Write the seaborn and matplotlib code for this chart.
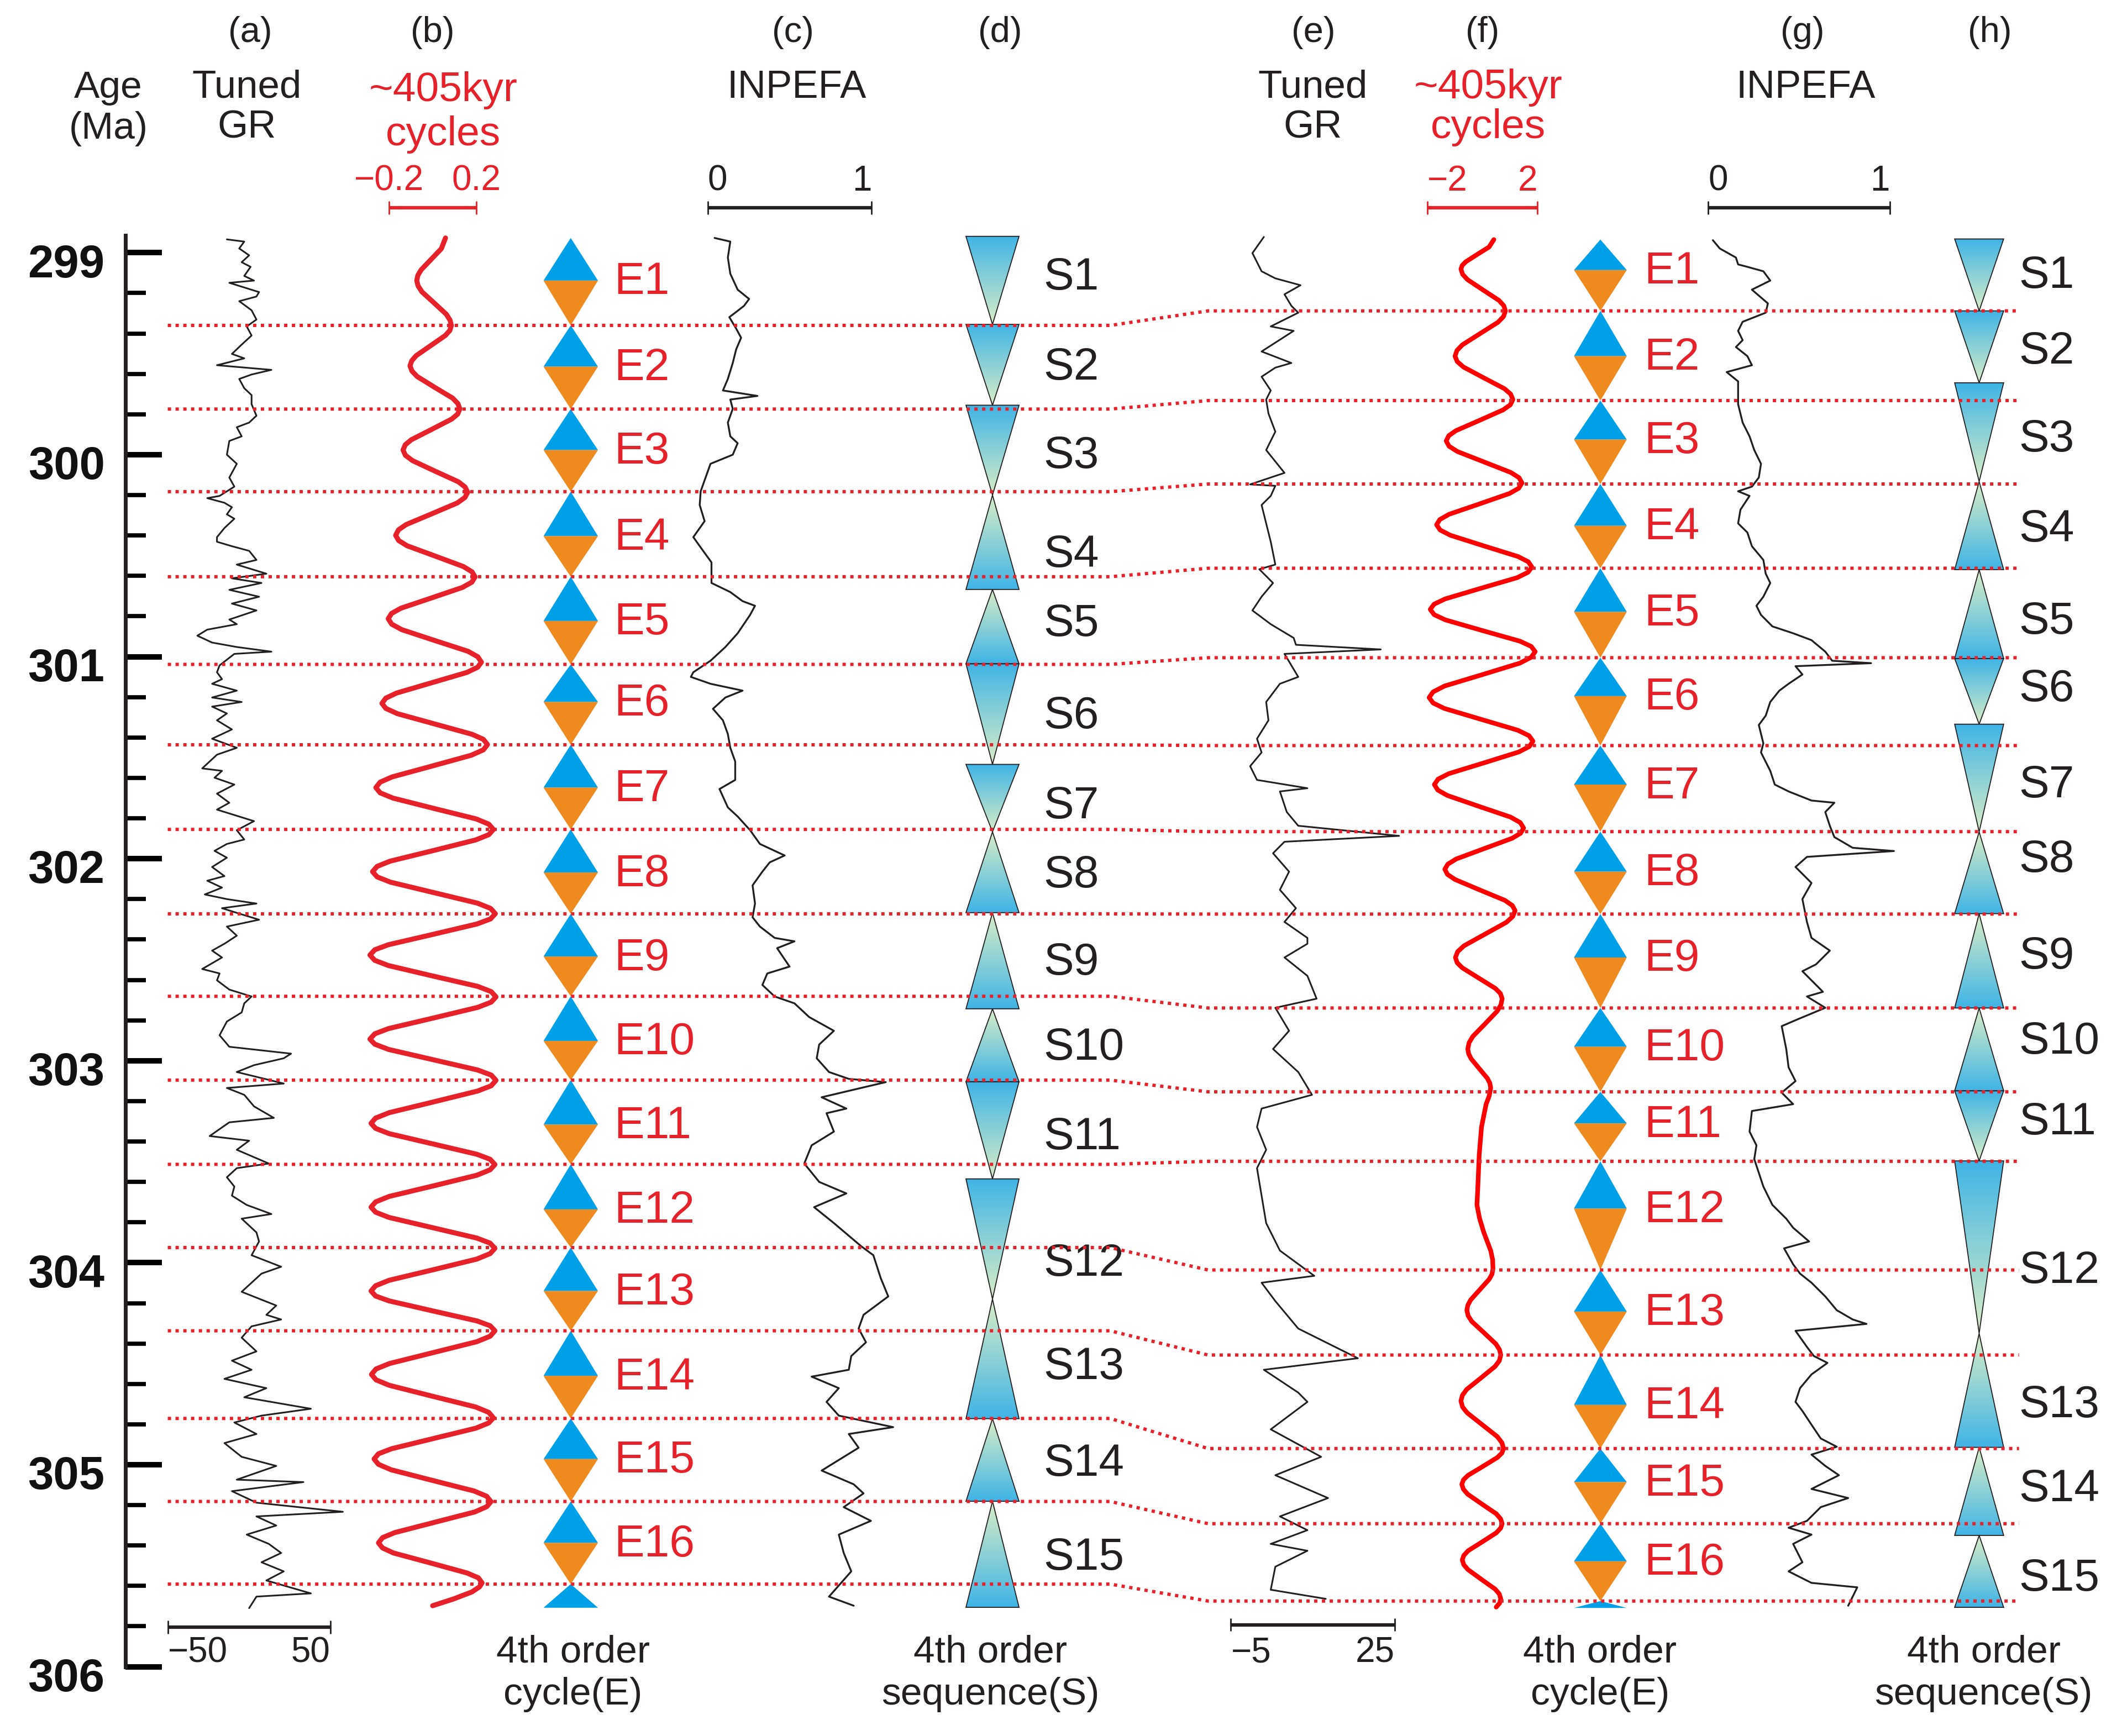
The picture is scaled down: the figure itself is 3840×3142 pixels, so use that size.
import numpy as np
import matplotlib
matplotlib.use("Agg")
import matplotlib.pyplot as plt
import seaborn as sns
from matplotlib.colors import LinearSegmentedColormap
from matplotlib.patches import Polygon
from matplotlib.ticker import FixedLocator

# ---------------- boundaries (Ma) ----------------
e_left_bounds = [298.927, 299.360, 299.774, 300.183, 300.604, 301.038, 301.436, 301.855, 302.273,
                 302.681, 303.096, 303.513, 303.925, 304.337, 304.771, 305.182, 305.591]
e_left_mid = [299.138, 299.564, 299.977, 300.403, 300.823, 301.224, 301.648, 302.068,
              302.484, 302.902, 303.316, 303.736, 304.140, 304.560, 304.972, 305.387]
e_left_end = 305.708
e_right_bounds = [298.935, 299.288, 299.732, 300.145, 300.562, 301.005, 301.440, 301.866, 302.274,
                  302.739, 303.154, 303.498, 304.036, 304.457, 304.920, 305.292, 305.675]
e_right_mid = [299.086, 299.512, 299.925, 300.352, 300.778, 301.195, 301.633, 302.064,
               302.489, 302.931, 303.310, 303.732, 304.242, 304.704, 305.086, 305.478]
e_right_end = 305.709
s_left_bounds = [298.919, 299.355, 299.755, 300.200, 300.667, 301.035, 301.533, 301.867, 302.267,
                 302.743, 303.104, 303.585, 304.180, 304.772, 305.181, 305.706]
s_right_bounds = [298.932, 299.288, 299.644, 300.133, 300.569, 301.009, 301.334, 301.867, 302.272,
                  302.739, 303.149, 303.496, 304.350, 304.914, 305.350, 305.706]
s_kind = ["down", "down", "down", "up", "up", "down", "down", "up", "up", "up",
          "down", "down", "up", "up", "up"]
e_names = [f"E{i}" for i in range(1, 17)]
s_names = [f"S{i}" for i in range(1, 16)]
age_ticks = [299, 300, 301, 302, 303, 304, 305, 306]

# ---------------- curves: [age (Ma), value] ----------------
gr_left = np.array([
    [298.934, -13.6], [298.945, -2.9], [298.979, -6.0], [299.013, 0.1], [299.047, -4.5], [299.070, 1.0],
    [299.115, -2.9], [299.138, 3.1], [299.149, -12.1], [299.195, 6.2], [299.217, 4.6], [299.240, -6.0],
    [299.285, 1.6], [299.331, 4.6], [299.365, -1.4], [299.410, 1.6], [299.455, -4.5], [299.501, -10.5],
    [299.523, -2.9], [299.557, -19.7], [299.580, 13.8], [299.603, 1.6], [299.625, -6.0], [299.671, -2.9],
    [299.705, 1.6], [299.750, 1.6], [299.807, 4.6], [299.841, 0.1], [299.864, -7.5], [299.909, -4.5],
    [299.932, -12.1], [300.000, -13.6], [300.045, -7.5], [300.113, -12.1], [300.158, -9.0], [300.204, -18.1],
    [300.215, -25.7], [300.238, -15.1], [300.260, -10.5], [300.295, -13.6], [300.317, -9.0], [300.363, -15.1],
    [300.408, -19.7], [300.431, -19.7], [300.453, -10.5], [300.476, 0.1], [300.521, 4.6], [300.544, -7.5],
    [300.589, 10.7], [300.612, -10.5], [300.635, 7.7], [300.669, -12.1], [300.703, 6.2], [300.737, -10.5],
    [300.771, 4.6], [300.816, -12.1], [300.839, -7.5], [300.866, -25.7], [300.896, -31.8], [300.930, -22.7],
    [300.952, -7.5], [300.975, 13.8], [300.986, -9.0], [301.043, -18.1], [301.077, -19.7], [301.111, -16.6],
    [301.134, -22.7], [301.168, -7.5], [301.202, -22.7], [301.224, -4.5], [301.247, -22.7], [301.281, -13.6],
    [301.315, -19.7], [301.360, -10.5], [301.406, -22.7], [301.451, -7.5], [301.485, -19.7], [301.553, -28.8],
    [301.565, -16.6], [301.599, -21.2], [301.633, -9.0], [301.678, -19.7], [301.723, -12.1], [301.757, -19.7],
    [301.814, 3.1], [301.859, -7.5], [301.905, -2.9], [301.927, -13.6], [301.961, -21.2], [301.995, -13.6],
    [302.041, -22.7], [302.086, -15.1], [302.109, -25.7], [302.143, -16.6], [302.177, -27.2], [302.200, -13.6],
    [302.222, 4.6], [302.245, -16.6], [302.268, -7.5], [302.302, 6.2], [302.336, -13.6], [302.381, -7.5],
    [302.421, -15.1], [302.455, -22.7], [302.489, -16.6], [302.546, -28.8], [302.568, -18.1], [302.602, -19.7],
    [302.648, -12.1], [302.682, 1.6], [302.716, -2.9], [302.761, -4.5], [302.806, -13.6], [302.874, -18.1],
    [302.931, -12.1], [302.965, 25.9], [302.988, 21.4], [303.022, 3.1], [303.056, -7.5], [303.113, 21.4],
    [303.135, -13.6], [303.169, -2.9], [303.226, 3.1], [303.283, 15.3], [303.305, -12.1], [303.373, -24.2],
    [303.396, 0.1], [303.441, -7.5], [303.509, 12.2], [303.532, -7.5], [303.577, -13.6], [303.623, -9.0],
    [303.668, -10.5], [303.714, -1.4], [303.759, 13.8], [303.782, -4.5], [303.850, 4.6], [303.895, 6.2],
    [303.963, 1.6], [304.020, 19.8], [304.054, 7.7], [304.144, -4.5], [304.212, 16.8], [304.258, 10.7],
    [304.281, 19.8], [304.315, 1.6], [304.371, -4.5], [304.439, 4.6], [304.485, -10.5], [304.530, 1.6],
    [304.575, -15.1], [304.621, 10.7], [304.666, -2.9], [304.723, 38.1], [304.757, 7.7], [304.791, -9.0],
    [304.848, 4.6], [304.893, -15.1], [304.961, -4.5], [305.006, 16.8], [305.074, -7.5], [305.086, 33.5],
    [305.131, -10.5], [305.188, 4.6], [305.233, 57.8], [305.256, 4.6], [305.301, 16.8], [305.346, -1.4],
    [305.392, 12.2], [305.437, 19.8], [305.483, 7.7], [305.528, 21.4], [305.573, 10.7], [305.637, 38.1],
    [305.653, 4.6], [305.710, 0.1]])

cycle_left = np.array([
    [298.927, 0.059], [298.980, 0.040], [299.033, -0.007], [299.085, -0.053], [299.112, -0.068],
    [299.138, -0.073], [299.164, -0.067], [299.194, -0.049], [299.249, 0.007], [299.305, 0.063],
    [299.334, 0.080], [299.360, 0.086], [299.385, 0.079], [299.410, 0.058], [299.460, -0.009],
    [299.510, -0.076], [299.535, -0.096], [299.560, -0.104], [299.586, -0.095], [299.613, -0.071],
    [299.667, 0.010], [299.720, 0.092], [299.747, 0.116], [299.773, 0.125], [299.799, 0.115],
    [299.824, 0.087], [299.875, -0.005], [299.926, -0.098], [299.951, -0.126], [299.977, -0.136],
    [300.003, -0.125], [300.029, -0.093], [300.082, 0.012], [300.134, 0.118], [300.160, 0.149],
    [300.186, 0.161], [300.212, 0.148], [300.239, 0.113], [300.293, -0.005], [300.346, -0.122],
    [300.372, -0.157], [300.399, -0.170], [300.425, -0.156], [300.451, -0.117], [300.502, 0.012],
    [300.554, 0.142], [300.580, 0.181], [300.605, 0.195], [300.631, 0.180], [300.657, 0.137],
    [300.709, -0.005], [300.760, -0.146], [300.786, -0.189], [300.812, -0.204], [300.839, -0.188],
    [300.866, -0.142], [300.920, 0.010], [300.973, 0.162], [301.000, 0.207], [301.027, 0.224],
    [301.052, 0.207], [301.078, 0.157], [301.129, -0.005], [301.180, -0.166], [301.205, -0.215],
    [301.231, -0.233], [301.256, -0.215], [301.282, -0.162], [301.333, 0.010], [301.384, 0.181],
    [301.409, 0.233], [301.435, 0.252], [301.461, 0.233], [301.488, 0.177], [301.542, -0.005],
    [301.595, -0.186], [301.621, -0.241], [301.648, -0.261], [301.674, -0.241], [301.700, -0.182],
    [301.752, 0.009], [301.803, 0.200], [301.829, 0.258], [301.855, 0.279], [301.881, 0.258],
    [301.907, 0.198], [301.960, 0.002], [302.012, -0.195], [302.038, -0.255], [302.064, -0.276],
    [302.090, -0.255], [302.116, -0.194], [302.168, 0.006], [302.220, 0.206], [302.246, 0.266],
    [302.272, 0.288], [302.298, 0.266], [302.323, 0.204], [302.375, 0.000], [302.426, -0.204],
    [302.451, -0.266], [302.477, -0.288], [302.503, -0.266], [302.529, -0.203], [302.581, 0.002],
    [302.632, 0.207], [302.658, 0.269], [302.684, 0.291], [302.710, 0.269], [302.736, 0.207],
    [302.789, 0.002], [302.841, -0.203], [302.867, -0.266], [302.893, -0.288], [302.918, -0.266],
    [302.944, -0.203], [302.995, 0.002], [303.046, 0.207], [303.071, 0.269], [303.097, 0.291],
    [303.124, 0.269], [303.150, 0.207], [303.204, 0.004], [303.257, -0.199], [303.284, -0.262],
    [303.310, -0.283], [303.335, -0.262], [303.361, -0.200], [303.412, 0.002], [303.463, 0.203],
    [303.488, 0.264], [303.514, 0.286], [303.540, 0.264], [303.567, 0.203], [303.620, 0.002],
    [303.672, -0.200], [303.699, -0.262], [303.725, -0.283], [303.750, -0.262], [303.776, -0.200],
    [303.827, 0.002], [303.878, 0.203], [303.903, 0.264], [303.929, 0.286], [303.955, 0.264],
    [303.982, 0.203], [304.035, 0.002], [304.087, -0.200], [304.114, -0.262], [304.140, -0.283],
    [304.165, -0.262], [304.189, -0.200], [304.239, 0.002], [304.288, 0.203], [304.312, 0.264],
    [304.337, 0.286], [304.364, 0.264], [304.391, 0.203], [304.445, 0.003], [304.499, -0.198],
    [304.526, -0.260], [304.553, -0.281], [304.580, -0.260], [304.607, -0.199], [304.661, -0.001],
    [304.714, 0.197], [304.741, 0.258], [304.768, 0.279], [304.793, 0.258], [304.819, 0.199],
    [304.870, 0.005], [304.921, -0.189], [304.946, -0.249], [304.972, -0.269], [304.998, -0.249],
    [305.025, -0.191], [305.078, 0.000], [305.130, 0.190], [305.156, 0.248], [305.183, 0.268],
    [305.208, 0.248], [305.234, 0.193], [305.285, 0.010], [305.336, -0.174], [305.361, -0.230],
    [305.387, -0.249], [305.412, -0.230], [305.437, -0.180], [305.486, -0.011], [305.536, 0.158],
    [305.560, 0.210], [305.585, 0.227], [305.605, 0.215], [305.630, 0.180], [305.665, 0.095],
    [305.698, 0.000]])

inpefa_left = np.array([
    [298.927, 0.041], [298.945, 0.137], [299.024, 0.122], [299.104, 0.137], [299.183, 0.182],
    [299.229, 0.252], [299.263, 0.221], [299.297, 0.167], [299.319, 0.131], [299.376, 0.173],
    [299.421, 0.203], [299.478, 0.173], [299.546, 0.152], [299.625, 0.122], [299.682, 0.092],
    [299.709, 0.303], [299.727, 0.137], [299.773, 0.152], [299.841, 0.122], [299.909, 0.137],
    [299.943, 0.182], [300.000, 0.152], [300.045, 0.016], [300.113, -0.014], [300.181, -0.044],
    [300.249, -0.050], [300.329, -0.020], [300.408, -0.089], [300.476, -0.029], [300.533, 0.022],
    [300.635, 0.022], [300.680, 0.137], [300.725, 0.212], [300.748, 0.288], [300.793, 0.258],
    [300.884, 0.182], [300.952, 0.107], [301.020, 0.016], [301.077, -0.089], [301.100, -0.104],
    [301.134, 0.016], [301.168, 0.212], [301.202, 0.107], [301.258, 0.031], [301.315, 0.092],
    [301.383, 0.122], [301.451, 0.137], [301.519, 0.167], [301.610, 0.167], [301.655, 0.071],
    [301.746, 0.122], [301.791, 0.182], [301.859, 0.258], [301.927, 0.318], [301.984, 0.469],
    [302.018, 0.378], [302.064, 0.333], [302.132, 0.273], [302.222, 0.288], [302.290, 0.273],
    [302.336, 0.318], [302.392, 0.408], [302.409, 0.529], [302.443, 0.423], [302.534, 0.499],
    [302.568, 0.363], [302.625, 0.333], [302.682, 0.408], [302.716, 0.529], [302.784, 0.619],
    [302.852, 0.770], [302.920, 0.680], [302.988, 0.665], [303.056, 0.740], [303.090, 0.861],
    [303.106, 1.087], [303.181, 0.695], [303.237, 0.846], [303.260, 0.725], [303.351, 0.770],
    [303.419, 0.634], [303.509, 0.589], [303.600, 0.680], [303.657, 0.846], [303.725, 0.649],
    [303.804, 0.770], [303.918, 0.936], [303.963, 1.011], [304.076, 1.056], [304.167, 1.102],
    [304.258, 0.951], [304.326, 0.921], [304.394, 0.966], [304.462, 0.876], [304.530, 0.861],
    [304.564, 0.634], [304.621, 0.800], [304.689, 0.725], [304.757, 0.800], [304.814, 1.132],
    [304.848, 0.861], [304.916, 0.921], [305.029, 0.695], [305.097, 0.891], [305.142, 0.951],
    [305.210, 0.830], [305.278, 0.996], [305.346, 0.800], [305.437, 0.830], [305.528, 0.876],
    [305.653, 0.740], [305.698, 0.891]])

gr_right = np.array([
    [298.922, 1.05], [299.002, -1.05], [299.092, 0.63], [299.127, 3.15], [299.161, 7.77], [299.206, 4.83],
    [299.263, 6.09], [299.297, 7.35], [299.365, 2.31], [299.387, 6.51], [299.489, 0.63], [299.546, 6.09],
    [299.569, 3.15], [299.614, 0.63], [299.682, 2.31], [299.727, 1.47], [299.796, 1.89], [299.886, 3.15],
    [299.977, 1.47], [300.090, 4.83], [300.147, -1.47], [300.154, 3.15], [300.204, 2.31], [300.249, 0.63],
    [300.340, 1.47], [300.431, 2.31], [300.544, 3.15], [300.567, 0.21], [300.635, 2.73], [300.703, 0.63],
    [300.771, -1.05], [300.839, 2.31], [300.907, 6.51], [300.941, 6.93], [300.964, 22.47], [300.986, 4.83],
    [301.100, 7.35], [301.134, 3.99], [301.224, 1.47], [301.315, 1.89], [301.406, -0.21], [301.474, 0.63],
    [301.542, -1.47], [301.610, -0.21], [301.651, 9.03], [301.667, 3.99], [301.769, 5.25], [301.837, 7.35],
    [301.887, 25.83], [301.916, 4.83], [301.973, 2.73], [302.064, 5.67], [302.154, 3.99], [302.245, 6.93],
    [302.313, 4.83], [302.392, 9.03], [302.421, 9.03], [302.489, 4.83], [302.580, 9.03], [302.693, 10.71],
    [302.738, 3.15], [302.852, 5.67], [302.942, 2.73], [303.056, 7.35], [303.169, 9.87], [303.237, 0.63],
    [303.328, -0.21], [303.441, 1.47], [303.532, -0.21], [303.668, 0.63], [303.804, 1.47], [303.940, 3.99],
    [304.065, 10.29], [304.099, 0.63], [304.190, 3.15], [304.326, 7.35], [304.473, 18.27], [304.530, 1.05],
    [304.643, 7.35], [304.689, 9.03], [304.825, 2.31], [304.961, 11.55], [305.052, 3.15], [305.165, 12.81],
    [305.256, 3.99], [305.324, 9.03], [305.392, 2.31], [305.426, 9.03], [305.505, 3.15], [305.619, 2.31],
    [305.664, 12.39]])

cycle_right = np.array([
    [298.935, 0.420], [298.972, 0.246], [299.008, -0.178], [299.045, -0.600], [299.063, -0.730],
    [299.081, -0.775], [299.107, -0.714], [299.133, -0.539], [299.185, 0.033], [299.236, 0.604],
    [299.262, 0.779], [299.288, 0.840], [299.316, 0.770], [299.344, 0.573], [299.400, -0.075],
    [299.456, -0.723], [299.484, -0.920], [299.512, -0.990], [299.539, -0.910], [299.566, -0.683],
    [299.620, 0.060], [299.673, 0.803], [299.700, 1.030], [299.727, 1.110], [299.753, 1.018],
    [299.778, 0.757], [299.830, -0.100], [299.881, -0.957], [299.906, -1.218], [299.932, -1.310],
    [299.958, -1.206], [299.984, -0.908], [300.036, 0.065], [300.088, 1.038], [300.114, 1.336],
    [300.140, 1.440], [300.166, 1.322], [300.192, 0.987], [300.244, -0.110], [300.295, -1.207],
    [300.321, -1.542], [300.347, -1.660], [300.373, -1.529], [300.399, -1.155], [300.452, 0.070],
    [300.504, 1.295], [300.530, 1.669], [300.556, 1.800], [300.582, 1.660], [300.609, 1.261],
    [300.661, -0.045], [300.714, -1.351], [300.740, -1.750], [300.766, -1.890], [300.792, -1.745],
    [300.818, -1.334], [300.871, 0.015], [300.923, 1.364], [300.949, 1.775], [300.975, 1.920],
    [301.003, 1.774], [301.032, 1.358], [301.089, -0.005], [301.145, -1.368], [301.174, -1.784],
    [301.202, -1.930], [301.229, -1.787], [301.256, -1.380], [301.310, -0.045], [301.364, 1.290],
    [301.391, 1.697], [301.418, 1.840], [301.445, 1.704], [301.472, 1.317], [301.526, 0.050],
    [301.579, -1.217], [301.606, -1.604], [301.633, -1.740], [301.660, -1.617], [301.687, -1.267],
    [301.741, -0.120], [301.794, 1.027], [301.821, 1.377], [301.848, 1.500], [301.874, 1.391],
    [301.899, 1.082], [301.950, 0.070], [302.001, -0.942], [302.027, -1.251], [302.052, -1.360],
    [302.078, -1.263], [302.103, -0.988], [302.155, -0.085], [302.206, 0.818], [302.232, 1.093],
    [302.257, 1.190], [302.286, 1.108], [302.315, 0.873], [302.373, 0.105], [302.431, -0.663],
    [302.460, -0.894], [302.489, -0.976], [302.515, -0.912], [302.540, -0.728], [302.591, -0.128],
    [302.642, 0.473], [302.667, 0.657], [302.693, 0.721], [302.724, 0.674], [302.755, 0.539],
    [302.818, 0.097], [302.880, -0.345], [302.911, -0.480], [302.942, -0.527], [302.966, -0.495],
    [302.990, -0.406], [303.039, -0.111], [303.087, 0.184], [303.111, 0.274], [303.135, 0.305],
    [303.175, 0.250], [303.215, 0.139], [303.328, -0.028], [303.464, -0.111], [303.623, -0.161],
    [303.714, -0.194], [303.780, -0.100], [303.850, 0.055], [303.940, 0.305], [303.985, 0.375],
    [304.031, 0.388], [304.057, 0.352], [304.082, 0.250], [304.133, -0.086], [304.184, -0.422],
    [304.210, -0.524], [304.235, -0.560], [304.263, -0.513], [304.291, -0.380], [304.346, 0.056],
    [304.402, 0.491], [304.430, 0.624], [304.457, 0.671], [304.486, 0.616], [304.514, 0.460],
    [304.571, -0.053], [304.627, -0.565], [304.656, -0.721], [304.684, -0.776], [304.714, -0.717],
    [304.743, -0.550], [304.802, -0.003], [304.861, 0.545], [304.891, 0.712], [304.920, 0.771],
    [304.942, 0.713], [304.964, 0.550], [305.009, 0.014], [305.053, -0.522], [305.075, -0.685],
    [305.097, -0.743], [305.121, -0.687], [305.146, -0.529], [305.195, -0.011], [305.243, 0.507],
    [305.268, 0.665], [305.292, 0.721], [305.314, 0.666], [305.337, 0.510], [305.382, -0.003],
    [305.426, -0.515], [305.449, -0.671], [305.471, -0.726], [305.495, -0.673], [305.519, -0.522],
    [305.568, -0.028], [305.616, 0.467], [305.640, 0.618], [305.664, 0.671], [305.685, 0.630],
    [305.705, 0.505]])

inpefa_right = np.array([
    [298.938, 0.026], [298.979, 0.064], [299.024, 0.153], [299.058, 0.165], [299.070, 0.216],
    [299.092, 0.304], [299.138, 0.342], [299.183, 0.241], [299.251, 0.329], [299.297, 0.317],
    [299.342, 0.190], [299.387, 0.165], [299.433, 0.190], [299.467, 0.153], [299.512, 0.216],
    [299.557, 0.241], [299.591, 0.102], [299.637, 0.165], [299.705, 0.165], [299.750, 0.165],
    [299.841, 0.190], [299.909, 0.228], [299.977, 0.254], [300.045, 0.291], [300.113, 0.279],
    [300.158, 0.241], [300.181, 0.165], [300.204, 0.228], [300.272, 0.178], [300.340, 0.165],
    [300.385, 0.216], [300.453, 0.241], [300.521, 0.304], [300.589, 0.317], [300.635, 0.342],
    [300.703, 0.304], [300.748, 0.266], [300.793, 0.291], [300.850, 0.354], [300.884, 0.468],
    [300.918, 0.569], [300.975, 0.645], [301.020, 0.683], [301.032, 0.897], [301.047, 0.481],
    [301.088, 0.519], [301.134, 0.443], [301.168, 0.392], [301.224, 0.342], [301.292, 0.317],
    [301.338, 0.279], [301.429, 0.304], [301.474, 0.291], [301.565, 0.342], [301.633, 0.367],
    [301.667, 0.443], [301.712, 0.569], [301.723, 0.695], [301.769, 0.645], [301.837, 0.670],
    [301.893, 0.695], [301.946, 0.796], [301.962, 1.023], [301.991, 0.544], [302.041, 0.481],
    [302.120, 0.569], [302.200, 0.519], [302.313, 0.544], [302.392, 0.569], [302.455, 0.670],
    [302.523, 0.594], [302.557, 0.519], [302.659, 0.632], [302.682, 0.544], [302.738, 0.645],
    [302.795, 0.493], [302.829, 0.405], [302.942, 0.430], [303.033, 0.443], [303.101, 0.481],
    [303.158, 0.405], [303.215, 0.468], [303.249, 0.241], [303.351, 0.228], [303.419, 0.266],
    [303.487, 0.254], [303.623, 0.304], [303.714, 0.354], [303.782, 0.430], [303.827, 0.468],
    [303.895, 0.556], [303.929, 0.418], [304.008, 0.468], [304.054, 0.506], [304.099, 0.569],
    [304.167, 0.645], [304.235, 0.708], [304.281, 0.796], [304.303, 0.872], [304.337, 0.481],
    [304.417, 0.544], [304.462, 0.582], [304.496, 0.657], [304.553, 0.569], [304.621, 0.506],
    [304.689, 0.481], [304.734, 0.519], [304.802, 0.569], [304.870, 0.620], [304.911, 0.708],
    [304.950, 0.569], [305.006, 0.645], [305.052, 0.720], [305.120, 0.569], [305.165, 0.771],
    [305.210, 0.620], [305.278, 0.544], [305.312, 0.443], [305.346, 0.569], [305.392, 0.468],
    [305.483, 0.519], [305.528, 0.443], [305.585, 0.569], [305.596, 0.695], [305.607, 0.821],
    [305.653, 0.796], [305.698, 0.771]])

# where the S labels sit (Ma)
s_left_label_age = [299.109, 299.553, 299.991, 300.480, 300.822, 301.281, 301.725, 302.068,
                    302.499, 302.921, 303.365, 303.991, 304.503, 304.981, 305.446]
s_right_label_age = [299.101, 299.475, 299.910, 300.355, 300.813, 301.147, 301.623, 301.991,
                     302.469, 302.890, 303.291, 304.025, 304.692, 305.106, 305.550]

# ---------------- style ----------------
sns.set_theme(style="white")
plt.rcParams['font.family'] = ['Liberation Sans', 'DejaVu Sans']

DARK = '#231f20'
RED = '#e6212a'
RED_BRIGHT = '#ff0000'
BLUE = '#00a0e9'
ORANGE = '#ef8a1e'
S_BLUE = '#3fb4e6'
S_PALE = '#d8edc6'

# layout units: reference pixels / 2.462 ; the age axis is shared by every panel
W, H = 1560.1, 1276.2
AGE_TOP, AGE_BOT = 297.749, 306.343


def yd(d):
    return 300 + (d - 334.3) / 148.5


fig = plt.figure(figsize=(38.41, 31.42), dpi=100)


def add_track(d0, d1, v0, v1, lo, hi):
    # axes spanning layout x lo..hi, value v0 sits at d0 and v1 at d1
    k = (v1 - v0) / (d1 - d0)
    a = fig.add_axes([lo / W, 0, (hi - lo) / W, 1])
    a.patch.set_visible(False)
    a.axis('off')
    return a, (v0 + (lo - d0) * k, v0 + (hi - d0) * k)


tracks = []


def curve(ax_lim, data, color, lw):
    a, xl = ax_lim
    sns.lineplot(x=data[:, 1], y=data[:, 0], sort=False, estimator=None, color=color,
                 linewidth=lw, ax=a, solid_joinstyle='round', solid_capstyle='round')
    tracks.append((a, xl))
    return a


def scale_bar(a, v0, v1, y, color, lab0, lab1, ha0, ha1, ylab):
    a.plot([v0, v1], [y, y], color=color, lw=4.5, solid_capstyle='butt')
    a.vlines([v0, v1], y - 0.032, y + 0.032, color=color, lw=2)
    a.text(v0, ylab, lab0, ha=ha0, va='baseline', fontsize=46, color=color)
    a.text(v1, ylab, lab1, ha=ha1, va='baseline', fontsize=46, color=color)


# --- left section
ax_a = curve(add_track(123.3, 242.7, -50, 50, 100, 280), gr_left, DARK, 2.2)
scale_bar(ax_a, -50, 50, yd(1196.2), DARK, '\u221250', '50', 'left', 'right', yd(1221.9))
ax_b = curve(add_track(286, 350, -0.2, 0.2, 250, 390), cycle_left, RED, 6.5)
scale_bar(ax_b, -0.2, 0.2, yd(152.7), RED, '\u22120.2', '0.2', 'center', 'center', yd(140.1))
ax_c = curve(add_track(520.3, 640.6, 0, 1, 490, 680), inpefa_left, DARK, 2.4)
scale_bar(ax_c, 0, 1, yd(152.7), DARK, '0', '1', 'left', 'right', yd(140.1))
# --- right section
ax_e = curve(add_track(904.7, 1025, -5, 25, 880, 1060), gr_right, DARK, 2.2)
scale_bar(ax_e, -5, 25, yd(1194.5), DARK, '\u22125', '25', 'left', 'right', yd(1221.9))
ax_f = curve(add_track(1049, 1130, -2, 2, 1030, 1150), cycle_right, RED_BRIGHT, 6)
scale_bar(ax_f, -2, 2, yd(152.7), RED, '\u22122', '2', 'left', 'right', yd(140.1))
ax_g = curve(add_track(1255.5, 1389, 0, 1, 1230, 1420), inpefa_right, DARK, 2.4)
scale_bar(ax_g, 0, 1, yd(152.7), DARK, '0', '1', 'left', 'right', yd(140.1))

for a, xl in tracks:
    a.set_xlim(*xl)
    a.set_ylim(AGE_BOT, AGE_TOP)

# --- age axis
age_ax = fig.add_axes([92 / W, 0, 40 / W, 1])
age_ax.patch.set_visible(False)
age_ax.set_ylim(AGE_BOT, AGE_TOP)
for s in ['top', 'right', 'bottom']:
    age_ax.spines[s].set_visible(False)
age_ax.spines['left'].set_bounds(age_ticks[-1], 298.913)
age_ax.spines['left'].set_linewidth(5)
age_ax.spines['left'].set_color(DARK)
age_ax.set_xticks([])
minor = [round(t + k * 0.2, 1) for t in age_ticks[:-1] for k in range(1, 5)]
age_ax.yaxis.set_major_locator(FixedLocator(age_ticks))
age_ax.yaxis.set_minor_locator(FixedLocator(minor))
age_ax.tick_params(axis='y', which='major', left=True, direction='in', length=47.5, width=7.2,
                   color='black', labelleft=False)
age_ax.tick_params(axis='y', which='minor', left=True, direction='in', length=26.4, width=5.5,
                   color='black')

# --- overlay: triangles, correlation lines, labels
ax = fig.add_axes([0, 0, 1, 1])
ax.patch.set_visible(False)
ax.axis('off')

s_cmap = LinearSegmentedColormap.from_list('seq', [S_PALE, S_BLUE])
grad = np.linspace(0, 1, 256).reshape(-1, 1)


def cycles(xc, hw, bounds, mids, end, xlab):
    for top, mid, bot, name in zip(bounds[:-1], mids, bounds[1:], e_names):
        ax.fill([xc - hw, xc + hw, xc], [mid, mid, top], color=BLUE, lw=0, zorder=2)
        ax.fill([xc - hw, xc + hw, xc], [mid, mid, bot], color=ORANGE, lw=0, zorder=2)
        ax.text(xlab, mid + 0.067, name, ha='left', va='baseline', fontsize=59, color=RED)
    ax.fill([xc - hw, xc + hw, xc], [end, end, bounds[-1]], color=BLUE, lw=0, zorder=2)


def sequences(xc, hw, bounds, lab_ages, xlab):
    for top, bot, kind, name, la in zip(bounds[:-1], bounds[1:], s_kind, s_names, lab_ages):
        if kind == 'down':
            pts = [(xc - hw, top), (xc + hw, top), (xc, bot)]
            g = grad[::-1]
        else:
            pts = [(xc, top), (xc - hw, bot), (xc + hw, bot)]
            g = grad
        im = ax.imshow(g, cmap=s_cmap, extent=(xc - hw, xc + hw, bot, top), origin='upper',
                       aspect='auto', interpolation='bilinear', zorder=2)
        tri = Polygon(pts, closed=True, fc='none', ec=DARK, lw=1.3, zorder=3)
        ax.add_patch(tri)
        im.set_clip_path(tri)
        ax.text(xlab, la + 0.074, name, ha='left', va='baseline', fontsize=59, color=DARK)


cycles(419.5, 20, e_left_bounds, e_left_mid, e_left_end, 451.5)
cycles(1176.3, 19.4, e_right_bounds, e_right_mid, e_right_end, 1208.5)
sequences(729.5, 19.5, s_left_bounds, s_left_label_age, 767)
sequences(1454.7, 18, s_right_bounds, s_right_label_age, 1484)

for la, ra in zip(e_left_bounds[1:], e_right_bounds[1:]):
    ax.plot([123.3, 816, 888, 1484], [la, la, ra, ra], color=RED, lw=4.3,
            ls=(0, (1.0, 1.35)), dash_capstyle='butt', zorder=5)

for t in age_ticks:
    ax.text(77, t + 0.121, str(t), ha='right', va='baseline', fontsize=60,
            fontweight='bold', color='#111111')

# header texts
for lab, x in zip('abcdefgh', [184, 318, 583, 735, 965.5, 1089.4, 1324.8, 1462.6]):
    ax.text(x, yd(30.9), f"({lab})", ha='center', va='baseline', fontsize=47, color=DARK)
ax.text(79.6, yd(71.8), 'Age', ha='center', va='baseline', fontsize=50, color=DARK)
ax.text(79.6, yd(101.9), '(Ma)', ha='center', va='baseline', fontsize=50, color=DARK)
for x in [181.5, 965]:
    ax.text(x, yd(71.8), 'Tuned', ha='center', va='baseline', fontsize=51, color=DARK)
    ax.text(x, yd(101.5), 'GR', ha='center', va='baseline', fontsize=51, color=DARK)
for x, y1, y2 in [(325.8, 74.2, 106.7), (1094, 72.4, 101.5)]:
    ax.text(x, yd(y1), '~405kyr', ha='center', va='baseline', fontsize=54, color=RED)
    ax.text(x, yd(y2), 'cycles', ha='center', va='baseline', fontsize=54, color=RED)
for x in [585.4, 1327.3]:
    ax.text(x, yd(71.8), 'INPEFA', ha='center', va='baseline', fontsize=51, color=DARK)
for x, word in [(421, 'cycle(E)'), (728, 'sequence(S)'), (1176, 'cycle(E)'), (1458, 'sequence(S)')]:
    ax.text(x, yd(1221.9), '4th order', ha='center', va='baseline', fontsize=50, color=DARK)
    ax.text(x, yd(1253), word, ha='center', va='baseline', fontsize=50, color=DARK)

ax.set_xlim(0, W)
ax.set_ylim(AGE_BOT, AGE_TOP)

fig.savefig('out.png', dpi=100)
